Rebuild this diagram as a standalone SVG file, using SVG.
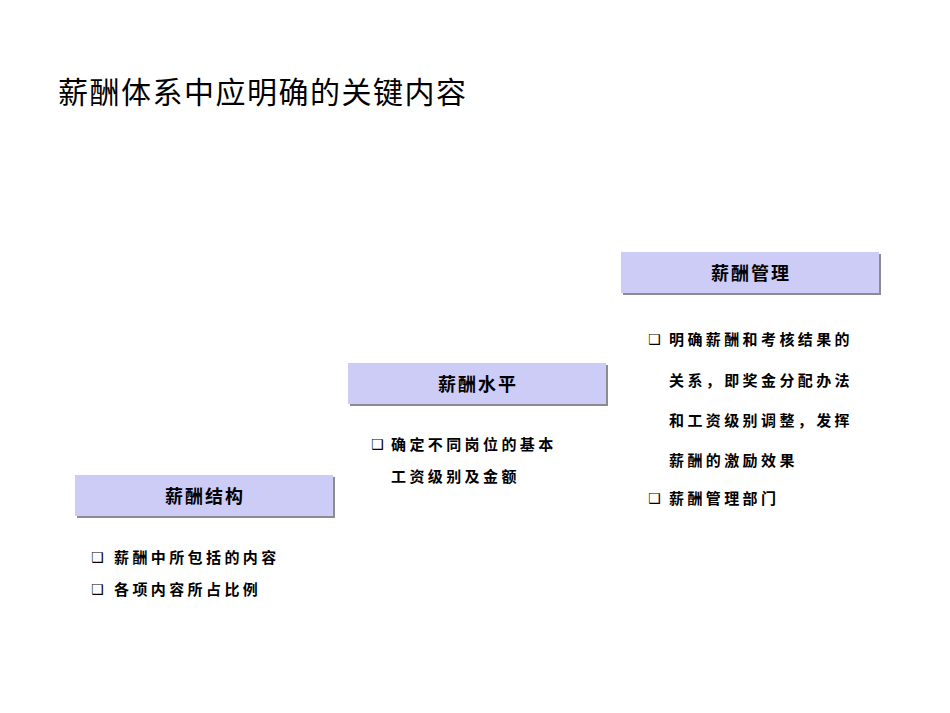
<svg xmlns="http://www.w3.org/2000/svg" width="950" height="713" viewBox="0 0 950 713">
<style>
.box{fill:#CCCCF7;stroke:none}
.sh{fill:#8C8C8C}
.hd{font-family:"Noto Sans CJK SC",sans-serif;font-size:18px;font-weight:bold;fill:#000;text-anchor:middle;letter-spacing:2px}
.tx{font-family:"Noto Sans CJK SC",sans-serif;font-size:15px;font-weight:bold;fill:#000;letter-spacing:3.4px}
.bl{font-family:"DejaVu Sans",sans-serif;font-size:14px;fill:#000}
</style>
<rect width="950" height="713" fill="#fff"/>
<text x="58" y="103" font-family="Noto Sans CJK SC,sans-serif" font-size="30" letter-spacing="1.5" fill="#000">薪酬体系中应明确的关键内容</text>
<g id="structure">
<rect class="sh" x="77" y="477" width="258" height="41"/>
<rect class="box" x="75" y="475" width="258" height="41"/>
<text class="hd" x="205" y="503">薪酬结构</text>
<text class="bl" x="91" y="562">❑</text><text class="tx" x="114" y="563">薪酬中所包括的内容</text>
<text class="bl" x="91" y="594">❑</text><text class="tx" x="114" y="595">各项内容所占比例</text>
</g>
<g id="level">
<rect class="sh" x="350" y="365" width="258" height="41"/>
<rect class="box" x="348" y="363" width="258" height="41"/>
<text class="hd" x="478" y="391">薪酬水平</text>
<text class="bl" x="371" y="449">❑</text><text class="tx" x="391" y="450">确定不同岗位的基本</text>
<text class="tx" x="391" y="482">工资级别及金额</text>
</g>
<g id="management">
<rect class="sh" x="623" y="254" width="258" height="41"/>
<rect class="box" x="621" y="252" width="258" height="41"/>
<text class="hd" x="751" y="280">薪酬管理</text>
<text class="bl" x="648" y="344">❑</text><text class="tx" x="669" y="345">明确薪酬和考核结果的</text>
<text class="tx" x="669" y="386">关系，即奖金分配办法</text>
<text class="tx" x="669" y="426">和工资级别调整，发挥</text>
<text class="tx" x="669" y="466">薪酬的激励效果</text>
<text class="bl" x="648" y="503">❑</text><text class="tx" x="669" y="504">薪酬管理部门</text>
</g>
<g id="connectors"/>
</svg>
